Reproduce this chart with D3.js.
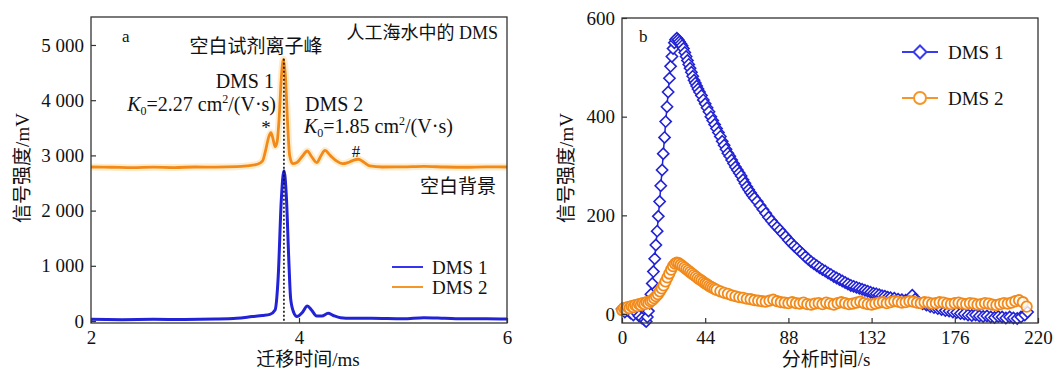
<!DOCTYPE html>
<html>
<head>
<meta charset="utf-8">
<script src="https://cdn.jsdelivr.net/npm/d3@7"></script>
<style>
  body { margin: 0; background: #fff; }
  svg text { font-family: "Liberation Serif", "Times New Roman", "Noto Sans CJK SC", serif; fill: #111; }
</style>
</head>
<body>
<svg id="chart" width="1053" height="372"></svg>
<script>
// ---- panel a: drift spectra (drift time ms, signal mV)
const driftTicks = [2, 4, 6]
const intensityTicksA = [0, 1000, 2000, 3000, 4000, 5000]
const reagentPeakX = 3.855
const reagentPeakTop = 4750

const dms2Spectrum = [
  [2.0, 2790], [2.2, 2785], [2.4, 2778], [2.6, 2786], [2.8, 2780], [3.0, 2790], [3.2, 2788],
  [3.4, 2795], [3.5, 2810], [3.6, 2840], [3.65, 2900], [3.68, 3100], [3.71, 3340], [3.73, 3410],
  [3.75, 3300], [3.77, 3160], [3.79, 3250], [3.81, 3700], [3.83, 4400], [3.85, 4740], [3.87, 4420],
  [3.89, 3600], [3.91, 3000], [3.94, 2850], [3.98, 2870], [4.03, 2980], [4.08, 3080], [4.12, 2980],
  [4.17, 2870], [4.21, 2990], [4.25, 3090], [4.30, 3000], [4.36, 2900], [4.42, 2850], [4.47, 2870],
  [4.52, 2910], [4.57, 2930], [4.62, 2880], [4.68, 2810], [4.8, 2790], [5.0, 2792], [5.2, 2800],
  [5.4, 2790], [5.6, 2785], [5.8, 2792], [6.0, 2790]
]

const dms1Spectrum = [
  [2.0, 30], [2.3, 25], [2.6, 30], [2.9, 28], [3.2, 35], [3.4, 50], [3.55, 80], [3.65, 100],
  [3.72, 120], [3.77, 200], [3.80, 800], [3.83, 2200], [3.855, 2720], [3.88, 2200], [3.90, 1200],
  [3.92, 400], [3.95, 150], [3.98, 80], [4.03, 150], [4.08, 270], [4.12, 200], [4.17, 90],
  [4.22, 90], [4.28, 140], [4.33, 100], [4.4, 60], [4.5, 50], [4.7, 50], [5.0, 40], [5.2, 60],
  [5.4, 50], [5.6, 40], [5.8, 40], [6.0, 35]
]

// ---- panel b: signal vs analysis time (s, mV)
const timeTicks = [0, 44, 88, 132, 176, 220]
const intensityTicksB = [0, 200, 400, 600]

const dms1Series = [
  [0, 10], [1.5, 4], [3, 8], [4.5, 2], [6, -2], [7.5, 3], [9, -4], [10.5, -8], [12, -12], [12.8, -15],
  [13.4, -6], [14, 6], [14.7, 22], [15.3, 40], [16, 62], [16.6, 86], [17.3, 112], [17.9, 140],
  [18.6, 168], [19.2, 198], [19.9, 228], [20.5, 260], [21.2, 292], [21.8, 325], [22.5, 358],
  [23.1, 390], [23.8, 420], [24.4, 450], [25.1, 478], [25.7, 502], [26.4, 522], [27, 538],
  [27.7, 550], [28.3, 556], [29, 559], [29.7, 556], [30.4, 552], [31.1, 548], [31.8, 544],
  [32.5, 538], [33.2, 530], [33.9, 522], [34.6, 514], [35.3, 506], [36, 498], [36.7, 490],
  [37.4, 482], [38.1, 474], [38.8, 468], [39.5, 462], [40.2, 456], [41, 450], [42, 443], [43, 434],
  [44, 426], [45, 418], [46, 410], [47, 400], [48, 392], [49, 384], [50, 376], [51, 368], [52, 360],
  [53, 350], [54, 342], [55, 334], [56, 326], [57, 320], [58, 312], [59, 305], [60, 298], [61, 292],
  [62, 286], [63, 280], [64, 272], [65, 265], [66, 258], [67, 252], [68, 246], [69, 240], [70, 235],
  [71.5, 228], [73, 220], [74.5, 212], [76, 204], [77.5, 196], [79, 189], [80.5, 182], [82, 176],
  [83.5, 170], [85, 163], [86.5, 157], [88, 150], [89.5, 144], [91, 138], [92.5, 133], [94, 127],
  [95.5, 122], [97, 116], [98.5, 111], [100, 106], [101.5, 102], [103, 98], [104.5, 94], [106, 90],
  [107.5, 87], [109, 83], [110.5, 80], [112, 76], [113.5, 73], [115, 70], [116.5, 67], [118, 64],
  [119.5, 61], [121, 58], [122.5, 56], [124, 54], [125.5, 52], [127, 50], [128.5, 48], [130, 46],
  [131.5, 44], [133, 42], [134.5, 41], [136, 39], [137.5, 37], [139, 36], [140.5, 34], [142, 33],
  [144, 32], [146, 30], [148, 29], [150, 28], [152, 30], [153.5, 38], [155, 30], [157, 24], [159, 21],
  [161, 18], [163, 15], [165, 13], [167, 11], [169, 9], [171, 7], [173, 6], [175, 4], [177, 3],
  [179, 1], [181, 0], [183, -2], [185, -3], [187, -2], [189, -4], [191, -5], [193, -4], [195, -6],
  [197, -7], [199, -5], [201, -6], [203, -8], [205, -6], [207, -8], [209, -9], [211, -6], [213, -2],
  [214.5, 4]
]

const dms2Series = [
  [0, 8], [1, 12], [2, 10], [3, 14], [4, 12], [5, 16], [6, 14], [7, 18], [8, 16], [9, 20], [10, 18],
  [11, 22], [12, 20], [13, 24], [14, 22], [15, 26], [16, 28], [17, 32], [18, 36], [19, 40], [20, 46],
  [21, 52], [22, 58], [23, 66], [24, 74], [25, 82], [26, 90], [27, 97], [28, 102], [29, 104], [30, 103],
  [31, 100], [32, 97], [33, 94], [34, 91], [35, 88], [36, 85], [37, 82], [38, 79], [39, 76], [40, 73],
  [41, 70], [42, 68], [43, 65], [44, 62], [45, 60], [46, 57], [47, 55], [48, 53], [49, 51], [50, 49],
  [52, 46], [54, 43], [56, 41], [58, 38], [60, 36], [62, 34], [64, 33], [66, 31], [68, 30], [70, 28],
  [72, 27], [74, 26], [76, 25], [78, 27], [80, 29], [82, 26], [84, 24], [86, 23], [88, 22], [90, 24],
  [92, 22], [94, 21], [96, 23], [98, 20], [100, 19], [102, 21], [104, 22], [106, 20], [108, 23],
  [110, 21], [112, 19], [114, 22], [116, 24], [118, 22], [120, 20], [122, 21], [124, 23], [126, 25],
  [128, 22], [130, 20], [132, 19], [134, 21], [136, 23], [138, 24], [140, 22], [142, 24], [144, 26],
  [146, 25], [148, 23], [150, 24], [152, 26], [154, 25], [156, 23], [158, 22], [160, 24], [162, 23],
  [164, 21], [166, 22], [168, 24], [170, 23], [172, 21], [174, 20], [176, 22], [178, 23], [180, 21],
  [182, 20], [184, 22], [186, 21], [188, 19], [190, 20], [192, 22], [194, 21], [196, 19], [198, 18],
  [200, 20], [202, 22], [204, 21], [206, 23], [208, 26], [210, 28], [212, 24], [214, 15]
]

const BLUE = '#2222d6'
const ORANGE = '#f28a1a'
const INK = '#333'
const svg = d3.select('#chart')

function frame (g, box, x, y, xTicks, yTicks, yFmt) {
  g.append('g')
    .attr('transform', `translate(0,${ box.bottom })`)
    .call(d3.axisBottom(x).tickValues(xTicks).tickSize(-5).tickPadding(8).tickFormat(d3.format('d')))
  g.append('g')
    .attr('transform', `translate(${ box.left },0)`)
    .call(d3.axisLeft(y).tickValues(yTicks).tickSize(-5).tickPadding(7).tickFormat(yFmt))
  g.selectAll('.domain').remove()
  g.selectAll('.tick line').attr('stroke', INK).attr('stroke-width', 1.2)
  g.selectAll('.tick text').attr('font-size', 19).attr('fill', '#111')
    .style('font-family', '"Liberation Serif", serif')
  g.append('rect')
    .attr('x', box.left).attr('y', box.top)
    .attr('width', box.right - box.left).attr('height', box.bottom - box.top)
    .attr('fill', 'none').attr('stroke', INK).attr('stroke-width', 1.3)
}

function label (g, x, y, txt, size, anchor) {
  return g.append('text').attr('x', x).attr('y', y)
    .attr('font-size', size).attr('text-anchor', anchor || 'start').text(txt)
}

function k0 (g, x, y, value, anchor) {
  const t = g.append('text').attr('x', x).attr('y', y).attr('font-size', 20).attr('text-anchor', anchor)
  t.append('tspan').attr('font-style', 'italic').text('K')
  t.append('tspan').attr('font-size', 12).attr('dy', 4).text('0')
  t.append('tspan').attr('dy', -4).text(`=${ value } cm`)
  t.append('tspan').attr('font-size', 12).attr('dy', -8).text('2')
  t.append('tspan').attr('dy', 8).text('/(V·s)')
}

// ================= panel a =================
const boxA = { left: 91, right: 507, top: 17, bottom: 323 }
const xA = d3.scaleLinear([2, 6], [boxA.left, boxA.right])
const yA = d3.scaleLinear([-36, 5507], [boxA.bottom, boxA.top])
const gA = svg.append('g')

const lineA = d3.line().x((d) => xA(d[0])).y((d) => yA(d[1])).curve(d3.curveMonotoneX)

gA.append('path').datum(dms2Spectrum).attr('d', lineA)
  .attr('fill', 'none').attr('stroke', '#fde4b8').attr('stroke-width', 7).attr('opacity', 0.7)
gA.append('path').datum(dms2Spectrum).attr('d', lineA)
  .attr('fill', 'none').attr('stroke', ORANGE).attr('stroke-width', 2.8).attr('stroke-linejoin', 'round')
gA.append('path').datum(dms1Spectrum).attr('d', lineA)
  .attr('fill', 'none').attr('stroke', BLUE).attr('stroke-width', 3).attr('stroke-linejoin', 'round')

gA.append('line')
  .attr('x1', xA(reagentPeakX)).attr('x2', xA(reagentPeakX))
  .attr('y1', yA(reagentPeakTop)).attr('y2', yA(0))
  .attr('stroke', '#111').attr('stroke-width', 1.6).attr('stroke-dasharray', '2,2')

frame(gA, boxA, xA, yA, driftTicks, intensityTicksA, (d) => d3.format(',')(d).replace(',', ' '))

label(gA, 122, 42, 'a', 17)
label(gA, 498, 39, '人工海水中的 DMS', 18, 'end')
label(gA, 256, 53, '空白试剂离子峰', 19, 'middle')
label(gA, 274, 88, 'DMS 1', 20, 'end')
k0(gA, 276, 111, '2.27', 'end')
label(gA, 305, 111, 'DMS 2', 20)
k0(gA, 304, 133, '1.85', 'start')
label(gA, 266, 134, '*', 19, 'middle')
label(gA, 356, 157, '#', 17, 'middle')
label(gA, 496, 193, '空白背景', 19, 'end')

const legA = [{ name: 'DMS 1', color: '#3434ee', y: 267 }, { name: 'DMS 2', color: '#f5962a', y: 287 }]
legA.forEach((l) => {
  gA.append('line').attr('x1', 392).attr('x2', 423).attr('y1', l.y).attr('y2', l.y)
    .attr('stroke', l.color).attr('stroke-width', 2)
  label(gA, 432, l.y + 6.5, l.name, 19)
})

label(gA, 308, 366, '迁移时间/ms', 19, 'middle')
label(gA, 0, 0, '信号强度/mV', 19, 'middle').attr('transform', 'translate(29,168) rotate(-90)')

// ================= panel b =================
const boxB = { left: 622, right: 1038, top: 18, bottom: 323 }
const xB = d3.scaleLinear([0, 220], [boxB.left, boxB.right])
const yB = d3.scaleLinear([-18.2, 600], [boxB.bottom, boxB.top])
const gB = svg.append('g')

const lineB = d3.line().x((d) => xB(d[0])).y((d) => yB(d[1]))
const diamond = (r) => `M0,${ -r }L${ r },0L0,${ r }L${ -r },0Z`

gB.append('path').datum(dms1Series).attr('d', lineB)
  .attr('fill', 'none').attr('stroke', BLUE).attr('stroke-width', 1.5)
gB.append('g').selectAll('path').data(dms1Series).join('path')
  .attr('transform', (d) => `translate(${ xB(d[0]) },${ yB(d[1]) })`)
  .attr('d', diamond(5.6))
  .attr('fill', '#fff').attr('stroke', BLUE).attr('stroke-width', 1.6)

gB.append('path').datum(dms2Series).attr('d', lineB)
  .attr('fill', 'none').attr('stroke', ORANGE).attr('stroke-width', 1.5)
gB.append('g').selectAll('circle').data(dms2Series).join('circle')
  .attr('cx', (d) => xB(d[0])).attr('cy', (d) => yB(d[1])).attr('r', 5.2)
  .attr('fill', '#fff').attr('fill-opacity', 0.8).attr('stroke', ORANGE).attr('stroke-width', 1.8)

frame(gB, boxB, xB, yB, timeTicks, intensityTicksB, d3.format('d'))

label(gB, 639, 42, 'b', 17)

const legB = [{ name: 'DMS 1', color: '#3a3aee', y: 52, mark: 'diamond' }, { name: 'DMS 2', color: '#f5962a', y: 98, mark: 'circle' }]
legB.forEach((l) => {
  gB.append('line').attr('x1', 902).attr('x2', 938).attr('y1', l.y).attr('y2', l.y)
    .attr('stroke', l.color).attr('stroke-width', 2)
  if (l.mark === 'diamond') {
    gB.append('path').attr('transform', `translate(920,${ l.y })`).attr('d', diamond(6.5))
      .attr('fill', '#fff').attr('stroke', l.color).attr('stroke-width', 2)
  } else {
    gB.append('circle').attr('cx', 920).attr('cy', l.y).attr('r', 6)
      .attr('fill', '#fff').attr('stroke', l.color).attr('stroke-width', 2)
  }
  label(gB, 948, l.y + 6.5, l.name, 19)
})

label(gB, 826, 366, '分析时间/s', 19, 'middle')
label(gB, 0, 0, '信号强度/mV', 19, 'middle').attr('transform', 'translate(573,168) rotate(-90)')
</script>
</body>
</html>
